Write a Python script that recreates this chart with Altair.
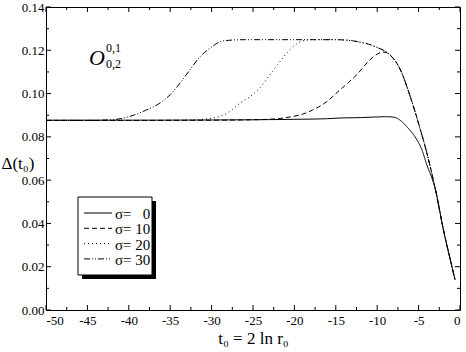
import altair as alt
import pandas as pd

# Gap function Delta(t0) for O_{0,2}^{0,1}, one curve per sigma
sigma_labels = ["σ= \u20070", "σ= 10", "σ= 20", "σ= 30"]

t_s0 = [-50, -40, -30, -25, -20, -16, -14.5, -12, -10, -9, -8, -7.2, -6.4, -5.2, -4.6, -4, -3.4, -3, -2, -1.2, -0.6]
d_s0 = [0.0877, 0.0877, 0.0878, 0.0879, 0.0881, 0.0884, 0.0887, 0.0889, 0.0892, 0.0893, 0.0891, 0.0876, 0.0846, 0.0786, 0.0740, 0.0670, 0.0610, 0.0562, 0.0370, 0.0237, 0.0140]

t_s10 = [-50, -40, -30, -25, -22, -20.5, -19, -17.8, -16, -14.5, -13.5, -12.4, -11.5, -10.9, -10, -9.4, -8.9, -8.5, -7.2, -6, -4.8, -4, -3, -2, -1.2, -0.6]
d_s10 = [0.0876, 0.0876, 0.0877, 0.0879, 0.0884, 0.0892, 0.0905, 0.0924, 0.0965, 0.1017, 0.1050, 0.1090, 0.1130, 0.1155, 0.1182, 0.1192, 0.1190, 0.1180, 0.1110, 0.0985, 0.0835, 0.0725, 0.0562, 0.0370, 0.0237, 0.0140]

t_s20 = [-50, -40, -33, -30, -28, -26.6, -25.4, -24.2, -22.9, -21.7, -20.5, -19.7, -19, -18, -15, -13, -12, -11, -10, -9, -8.5, -7.2, -6, -4.8, -4, -3, -2, -1.2, -0.6]
d_s20 = [0.0876, 0.0876, 0.0877, 0.0886, 0.0912, 0.0955, 0.0985, 0.1025, 0.1090, 0.1150, 0.1205, 0.1230, 0.1243, 0.1249, 0.1249, 0.1244, 0.1237, 0.1228, 0.1213, 0.1195, 0.1180, 0.1110, 0.0985, 0.0835, 0.0725, 0.0562, 0.0370, 0.0237, 0.0140]

t_s30 = [-50, -45, -42, -40, -38, -36.2, -35, -34.2, -33, -31.4, -30, -29, -28, -26, -20, -15, -13, -12, -11, -10, -9, -8.5, -7.2, -6, -4.8, -4, -3, -2, -1.2, -0.6]
d_s30 = [0.0876, 0.0876, 0.0879, 0.0893, 0.0922, 0.0957, 0.0995, 0.1030, 0.1090, 0.1170, 0.1215, 0.1239, 0.1246, 0.1249, 0.1249, 0.1249, 0.1244, 0.1237, 0.1228, 0.1213, 0.1195, 0.1180, 0.1110, 0.0985, 0.0835, 0.0725, 0.0562, 0.0370, 0.0237, 0.0140]

# axis tick positions
x_major = [-50, -45, -40, -35, -30, -25, -20, -15, -10, -5, 0]
x_minor = [-47.5, -42.5, -37.5, -32.5, -27.5, -22.5, -17.5, -12.5, -7.5, -2.5]
y_major = [0.00, 0.02, 0.04, 0.06, 0.08, 0.10, 0.12, 0.14]
y_minor = [0.01, 0.03, 0.05, 0.07, 0.09, 0.11, 0.13]

dash_styles = [[1, 0], [5, 3], [1, 3], [6, 2, 1, 2, 1, 2]]

rows = []
for lab, ts, ds in zip(sigma_labels, [t_s0, t_s10, t_s20, t_s30], [d_s0, d_s10, d_s20, d_s30]):
    for i, (t, d) in enumerate(zip(ts, ds)):
        rows.append({"t0": t, "delta": d, "series": lab, "order": i})
curves = pd.DataFrame(rows)

W, H = 414, 303
SERIF = "'Liberation Serif', 'Times New Roman', serif"
xs = alt.Scale(domain=[-50, 0], nice=False, zero=False)
ys = alt.Scale(domain=[0, 0.14], nice=False, zero=False)

lines = alt.Chart(curves).mark_line(
    color="black", strokeWidth=1, interpolate="monotone"
).encode(
    x=alt.X("t0:Q", scale=xs,
            axis=alt.Axis(values=x_major, labelExpr="'' + datum.value", labelPadding=4,
                          title="t₀ = 2 ln r₀", titleFontSize=17, titleFontWeight="normal",
                          titlePadding=3)),
    y=alt.Y("delta:Q", scale=ys,
            axis=alt.Axis(values=y_major, format=".2f", labelPadding=2,
                          title="Δ(t₀)", titleAngle=0, titleFontSize=17, titleFontWeight="normal",
                          titleX=-45, titleY=156, titleAlign="left", titleBaseline="middle")),
    strokeDash=alt.StrokeDash("series:N",
                              scale=alt.Scale(domain=sigma_labels, range=dash_styles),
                              legend=None),
    order="order:Q",
)

one = pd.DataFrame({"a": [0]})

# legend box with drop shadow
legend_layers = [
    alt.Chart(one).mark_rect(color="black").encode(
        x=alt.value(36), x2=alt.value(110), y=alt.value(194), y2=alt.value(272)),
    alt.Chart(one).mark_rect(fill="white", stroke="black", strokeWidth=1).encode(
        x=alt.value(32), x2=alt.value(106), y=alt.value(190), y2=alt.value(268)),
]
for k, (lab, dash) in enumerate(zip(sigma_labels, dash_styles)):
    ry = 206 + 15.3 * k
    legend_layers.append(
        alt.Chart(one).mark_rule(color="black", strokeWidth=1, strokeDash=dash).encode(
            x=alt.value(38), x2=alt.value(66), y=alt.value(ry)))
    legend_layers.append(
        alt.Chart(pd.DataFrame({"s": [lab]})).mark_text(
            font=SERIF, fontSize=15, align="left", baseline="middle", color="black"
        ).encode(text="s:N", x=alt.value(69), y=alt.value(ry + 1)))

def tick_layer(vals, axis, length, side):
    df = pd.DataFrame({"v": vals})
    base = alt.Chart(df).mark_rule(color="black", strokeWidth=1)
    if axis == "x":
        enc = dict(x=alt.X("v:Q", scale=xs))
        if side == "bottom":
            enc.update(y=alt.value(H), y2=alt.value(H - length))
        else:
            enc.update(y=alt.value(0), y2=alt.value(length))
    else:
        enc = dict(y=alt.Y("v:Q", scale=ys))
        if side == "left":
            enc.update(x=alt.value(0), x2=alt.value(length))
        else:
            enc.update(x=alt.value(W), x2=alt.value(W - length))
    return base.encode(**enc)

ticks = [
    tick_layer(x_major, "x", 5, "bottom"), tick_layer(x_minor, "x", 3, "bottom"),
    tick_layer(x_major, "x", 5, "top"), tick_layer(x_minor, "x", 3, "top"),
    tick_layer(y_major, "y", 5, "left"), tick_layer(y_minor, "y", 3, "left"),
    tick_layer(y_major, "y", 5, "right"), tick_layer(y_minor, "y", 3, "right"),
]

# operator label O^{0,1}_{0,2}
op_main = alt.Chart(pd.DataFrame({"s": ["O"]})).mark_text(
    font=SERIF, fontSize=22, fontStyle="italic", align="center", baseline="middle", color="black"
).encode(text="s:N", x=alt.value(51), y=alt.value(51))
op_sup = alt.Chart(pd.DataFrame({"s": ["0,1"]})).mark_text(
    font=SERIF, fontSize=12, align="left", baseline="middle", color="black"
).encode(text="s:N", x=alt.value(60), y=alt.value(41))
op_sub = alt.Chart(pd.DataFrame({"s": ["0,2"]})).mark_text(
    font=SERIF, fontSize=12, align="left", baseline="middle", color="black"
).encode(text="s:N", x=alt.value(60), y=alt.value(57))

chart = alt.layer(
    lines, *ticks, *legend_layers, op_main, op_sup, op_sub
).properties(
    width=W, height=H,
    background="white",
    autosize=alt.AutoSizeParams(type="none"),
    padding={"left": 46, "top": 7, "right": 6, "bottom": 42},
).configure_view(
    stroke="black", strokeWidth=1
).configure_axis(
    grid=False, ticks=False, domain=False,
    labelFont=SERIF, labelFontSize=13, labelColor="black",
    titleFont=SERIF, titleColor="black",
)

chart.save("out.html", embed_options={"renderer": "svg", "actions": False})
